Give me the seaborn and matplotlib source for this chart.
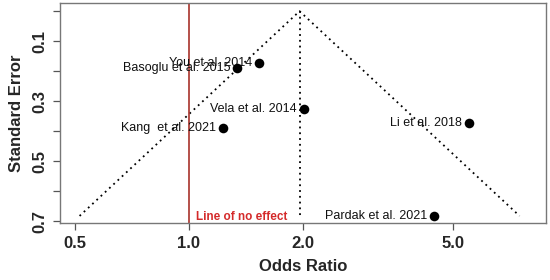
import numpy as np
import pandas as pd
import matplotlib
matplotlib.use("Agg")
import matplotlib.pyplot as plt
import seaborn as sns

# Çalışmalar (funnel plot)
studies = ['You et al. 2014', 'Basoglu et al. 2015', 'Vela et al. 2014',
           'Kang  et al. 2021', 'Li et al. 2018', 'Pardak et al. 2021']
odds_ratio = [1.53, 1.34, 2.01, 1.23, 5.49, 4.44]
std_error = [0.174, 0.191, 0.327, 0.391, 0.374, 0.683]
summary_or = 1.96
x_ticks = [0.5, 1.0, 2.0, 5.0]
x_tick_labels = ['0.5', '1.0', '2.0', '5.0']
y_ticks = [0.0, 0.1, 0.2, 0.3, 0.4, 0.5, 0.6, 0.7]
y_tick_labels = ['', '0.1', '', '0.3', '', '0.5', '', '0.7']

sns.set_style("white")
plt.rcParams['font.family'] = ['Liberation Sans', 'DejaVu Sans']

df = pd.DataFrame({'study': studies, 'OR': odds_ratio, 'SE': std_error})

fig = plt.figure(figsize=(5.5, 2.8), dpi=100)
ax = fig.add_axes([0.109, 0.202, 0.883, 0.787])

# funnel
se_max = max(std_error)
ax.plot([summary_or * np.exp(-1.96 * se_max), summary_or, summary_or * np.exp(1.96 * se_max)],
        [se_max, 0, se_max], color='black', ls=(0, (1, 2.2)), lw=1.3)
ax.plot([summary_or, summary_or], [0, se_max + 0.005], color='black', ls=(0, (1, 2.2)), lw=1.3)

# line of no effect
ax.axvline(1.0, color='#a8322a', lw=1.2)
ax.annotate('Line of no effect', (1.0, 0.685), xytext=(5, 0), textcoords='offset points',
            ha='left', va='center', color='#d42a2a', fontsize=8.5, fontweight='bold')

sns.scatterplot(data=df, x='OR', y='SE', ax=ax, color='black', s=48, edgecolor='black',
                linewidth=0, zorder=5, legend=False)
for _, row in df.iterrows():
    ax.annotate(row['study'], (row['OR'], row['SE']), xytext=(-5, 0), textcoords='offset points',
                ha='right', va='center', fontsize=9, color='#111111')

ax.set_xscale('log')
ax.set_xlim(0.456, 8.76)
ax.set_ylim(0.708, -0.027)
ax.set_xticks(x_ticks)
ax.set_xticklabels(x_tick_labels, fontsize=12, fontweight='bold')
ax.minorticks_off()
ax.set_yticks(y_ticks)
ax.set_yticklabels(y_tick_labels, fontsize=12, fontweight='bold', rotation=90, va='center')
ax.tick_params(axis='both', direction='out', length=5, width=0.9, color='#555555', pad=4,
               bottom=True, left=True)

for s in ax.spines.values():
    s.set_color('#777777')
    s.set_linewidth(1.0)

ax.set_xlabel('Odds Ratio', fontsize=12, fontweight='bold', labelpad=6)
ax.set_ylabel('Standard Error', fontsize=12, fontweight='bold', labelpad=6)

fig.savefig('out.png', dpi=100)
